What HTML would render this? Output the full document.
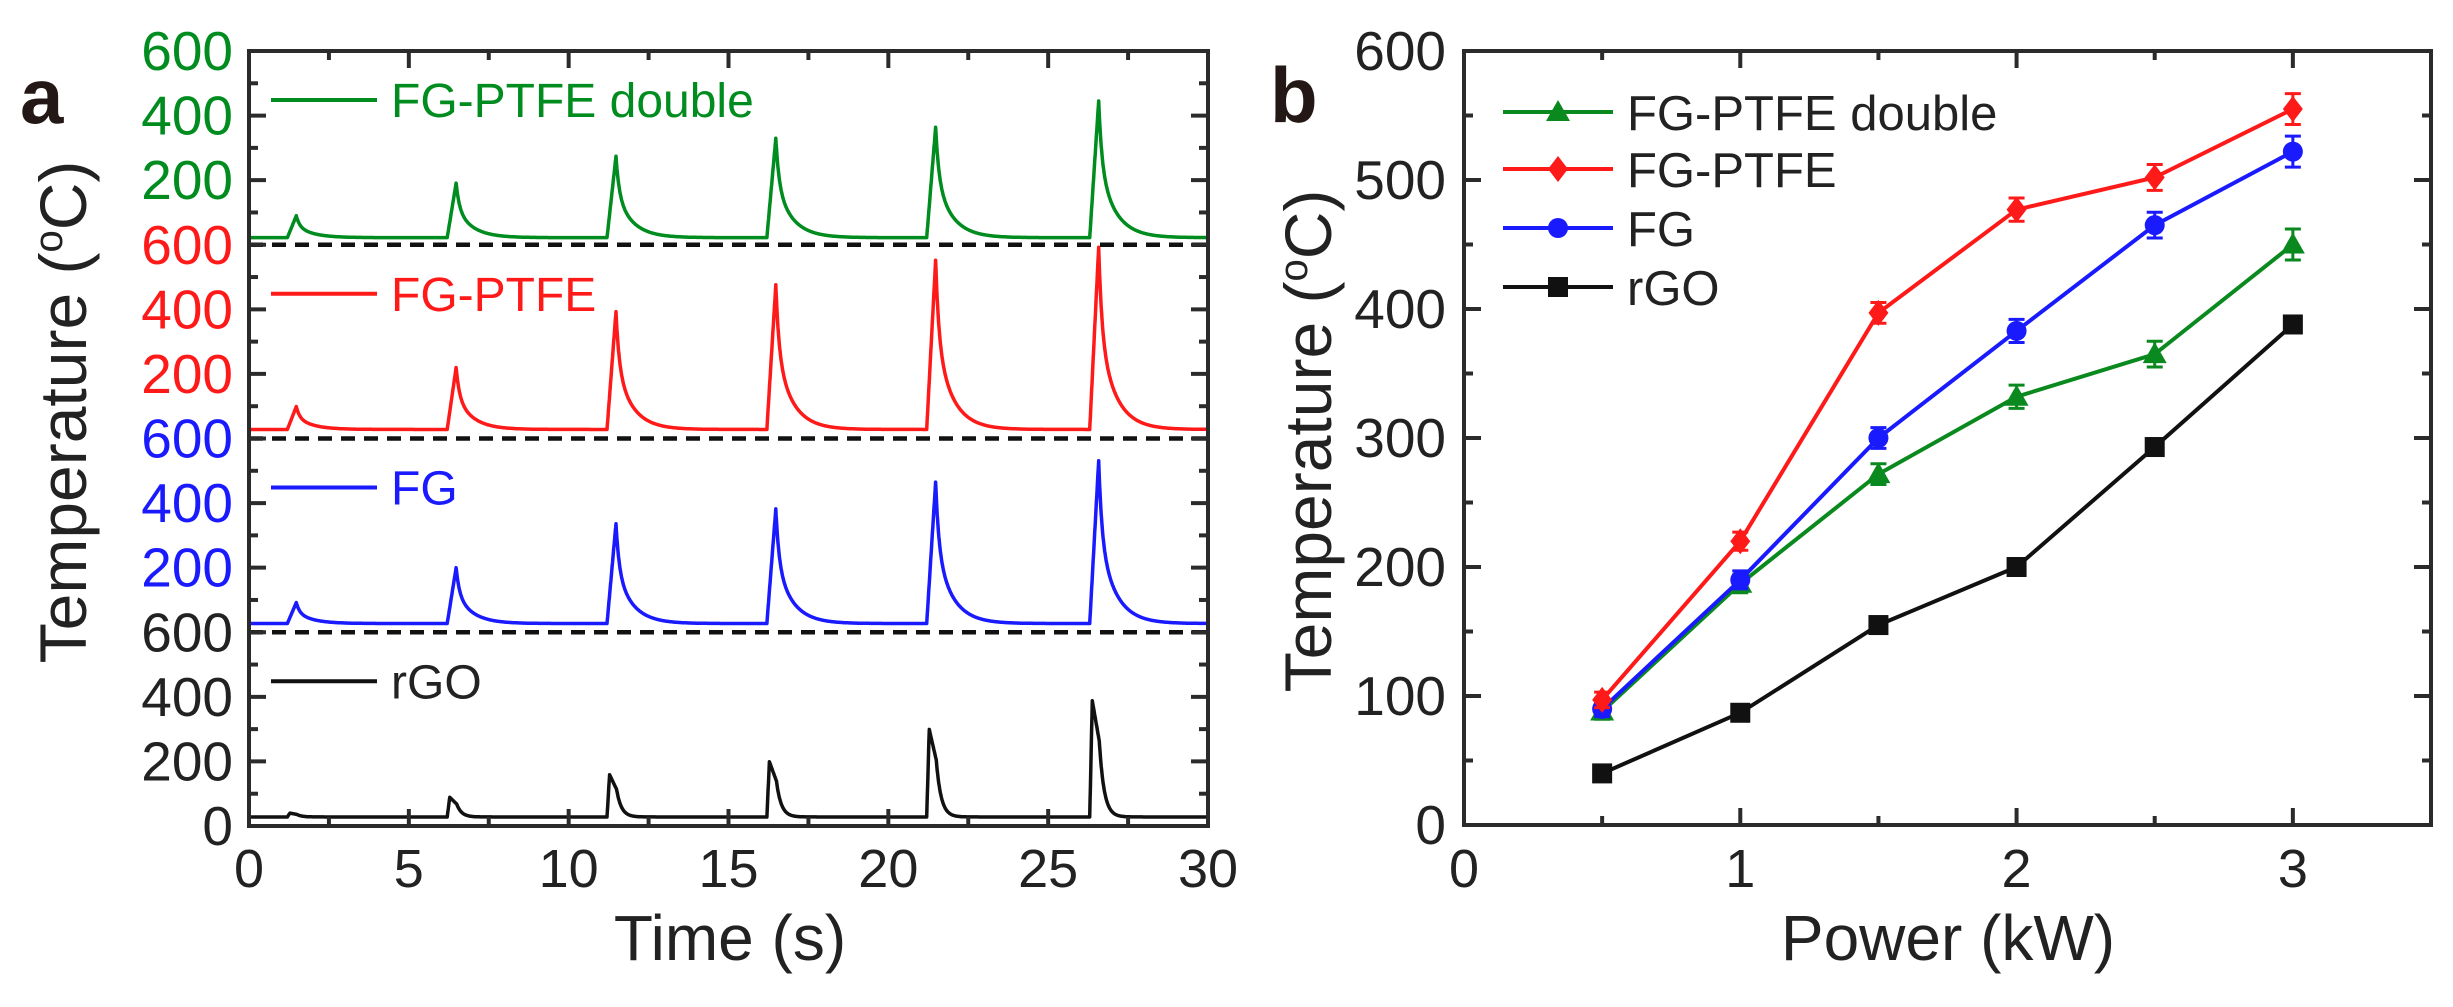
<!DOCTYPE html>
<html><head><meta charset="utf-8"><style>
html,body{margin:0;padding:0;background:#fff;}
svg{display:block;font-family:"Liberation Sans",Arial,sans-serif;}
</style></head><body>
<svg id="fig" width="2453" height="1007" viewBox="0 0 2453 1007" xmlns="http://www.w3.org/2000/svg">
<rect width="2453" height="1007" fill="#fff"/>
<g id="pa"></g>
<g id="pb"></g>
</svg>
<script>
// ---- Panel a data ----
const aSeriesNames = ["FG-PTFE double","FG-PTFE","FG","rGO"];
const aColors = ["#008c1e","#ff1a1a","#1a1aff","#111111"];
const aBaselines = [22, 28, 27, 28];
const aPulseStarts = [1.2, 6.2, 11.2, 16.2, 21.2, 26.3];
const aPeaksDouble = [90, 191, 274, 330, 364, 445];
const aPeaksPTFE = [99, 220, 393, 476, 552, 592];
const aPeaksFG = [92, 200, 336, 382, 465, 531];
const aPeaksRGO = [40, 89, 159, 199, 299, 388];
const aXTicks = [0,5,10,15,20,25,30];
const aYTicks = [0,200,400,600];

// ---- Panel b data ----
const bPower = [0.5,1,1.5,2,2.5,3];
const bDouble = [88,187,272,332,365,450];
const bPTFE = [97,220,397,477,502,555];
const bFG = [90,190,300,383,465,522];
const bRGO = [40,87,155,200,293,388];
const bErr = [6,7,8,9,10,12];
const bXTicks = [0,1,2,3];
const bYTicks = [0,100,200,300,400,500,600];

const NS="http://www.w3.org/2000/svg";
function mk(tag, attrs, parent){const e=document.createElementNS(NS,tag);for(const k in attrs)e.setAttribute(k,attrs[k]);parent.appendChild(e);return e;}
const AX="#2b2b2b";

// ===== Panel a =====
const pa=document.getElementById('pa');
const aL=249,aR=1208,aT=51,aB=826;
const segH=(aB-aT)/4;
const ax=t=>aL+(t/30)*(aR-aL);
const ay=(k,v)=>aT+segH*k+segH*(1-v/600);

let lab=mk('text',{x:20,y:123,'font-size':78,'font-weight':'bold',fill:'#231815'},pa);lab.textContent='a';



const aPeaks=[aPeaksDouble,aPeaksPTFE,aPeaksFG,aPeaksRGO];
aPeaks.forEach((peaks,k)=>{
  const base=aBaselines[k];
  let pts=[];
  for(let i=0;i<=3000;i++){
    const t=i/100;
    let v=base;
    peaks.forEach((p,j)=>{
      const s=aPulseStarts[j];
      const amp=p-base;
      if(k<3){
        const rise=0.28;
        if(t>=s&&t<s+rise) v+=amp*(t-s)/rise;
        else if(t>=s+rise){v+=amp*(0.45*Math.exp(-(t-s-rise)/0.1)+0.55*Math.exp(-(t-s-rise)/0.5));}
      } else {
        const rise=0.08;
        if(t>=s&&t<s+rise) v+=amp*(t-s)/rise;
        else if(t>=s+rise&&t<s+0.3) v+=amp*(1-0.35*(t-s-rise)/0.22);
        else if(t>=s+0.3){v+=amp*0.65*Math.exp(-(t-s-0.3)/0.15);}
      }
    });
    pts.push(ax(t).toFixed(1)+','+ay(k,v).toFixed(1));
  }
  const pl=mk('polyline',{points:pts.join(' '),fill:'none',stroke:aColors[k],'stroke-width':3.5,'stroke-linejoin':'round'},pa);
  
  
});
for(let k=1;k<4;k++){
  const d=mk('line',{x1:aL,x2:aR,y1:aT+segH*k,y2:aT+segH*k,stroke:'#111','stroke-width':4.5,'stroke-dasharray':'14 9'},pa);
  
  
}
const fa=mk('rect',{x:aL,y:aT,width:aR-aL,height:aB-aT,fill:'none',stroke:AX,'stroke-width':4},pa);


for(let t=0;t<=30;t+=2.5){
  const major=(t%5===0);const len=major?17:9;
  mk('line',{x1:ax(t),x2:ax(t),y1:aB,y2:aB-len,stroke:AX,'stroke-width':4},pa);
  mk('line',{x1:ax(t),x2:ax(t),y1:aT,y2:aT+len,stroke:AX,'stroke-width':4},pa);
}
aXTicks.forEach(t=>{
  const tx=mk('text',{x:ax(t),y:887,'font-size':54,'text-anchor':'middle',fill:'#222'},pa);tx.textContent=t;
  
  
});
for(let k=0;k<4;k++){
  for(let v=0;v<=600;v+=100){
    if(v===600&&k>0)continue;
    const len=(v%200===0)?17:9;const y=ay(k,v);
    mk('line',{x1:aL,x2:aL+len,y1:y,y2:y,stroke:AX,'stroke-width':4},pa);
    mk('line',{x1:aR,x2:aR-len,y1:y,y2:y,stroke:AX,'stroke-width':4},pa);
  }
  aYTicks.forEach(v=>{
    if(v===0&&k<3)return;
    const tx=mk('text',{x:233,y:ay(k,v)+19,'font-size':55,'text-anchor':'end',fill:aColors[k]==='#111111'?'#222':aColors[k]},pa);tx.textContent=v;
    
    
  });
  const ly=aT+segH*k+49;
  const ll=mk('line',{x1:271,x2:377,y1:ly,y2:ly,stroke:aColors[k],'stroke-width':4},pa);
  
  
  const lt=mk('text',{x:391,y:ly+17,'font-size':48,fill:aColors[k]==='#111111'?'#222':aColors[k]},pa);lt.textContent=aSeriesNames[k];
  
  
}
let xt=mk('text',{x:730,y:960,'font-size':64,'text-anchor':'middle',fill:'#222'},pa);xt.textContent='Time (s)';


let yt=mk('text',{x:0,y:0,'font-size':66,'text-anchor':'middle',fill:'#222',transform:'translate(86,412) rotate(-90)'},pa);
yt.innerHTML='Temperature (<tspan font-size="40" dy="-24">o</tspan><tspan dy="24">C)</tspan>';



// ===== Panel b =====
const pb=document.getElementById('pb');
const bL=1464,bR=2431,bT=51,bB=825;
const bx=p=>bL+(p/3.5)*(bR-bL);
const by=v=>bB-(v/600)*(bB-bT);
lab=mk('text',{x:1270,y:122,'font-size':78,'font-weight':'bold',fill:'#231815'},pb);lab.textContent='b';


const fb=mk('rect',{x:bL,y:bT,width:bR-bL,height:bB-bT,fill:'none',stroke:AX,'stroke-width':4},pb);


for(let p=0;p<=3.5;p+=0.5){
  const len=(p%1===0)?17:9;
  mk('line',{x1:bx(p),x2:bx(p),y1:bB,y2:bB-len,stroke:AX,'stroke-width':4},pb);
  mk('line',{x1:bx(p),x2:bx(p),y1:bT,y2:bT+len,stroke:AX,'stroke-width':4},pb);
}
for(let v=0;v<=600;v+=50){
  const len=(v%100===0)?17:9;
  mk('line',{x1:bL,x2:bL+len,y1:by(v),y2:by(v),stroke:AX,'stroke-width':4},pb);
  mk('line',{x1:bR,x2:bR-len,y1:by(v),y2:by(v),stroke:AX,'stroke-width':4},pb);
}
bXTicks.forEach(p=>{
  const tx=mk('text',{x:bx(p),y:887,'font-size':54,'text-anchor':'middle',fill:'#222'},pb);tx.textContent=p;
  
  
});
bYTicks.forEach(v=>{
  const tx=mk('text',{x:1446,y:by(v)+19,'font-size':55,'text-anchor':'end',fill:'#222'},pb);tx.textContent=v;
  
  
});
function marker(shape,x,y,c,g){
  if(shape==='tri') return mk('polygon',{points:`${x},${y-12} ${x-12},${y+9} ${x+12},${y+9}`,fill:c},g);
  if(shape==='dia') return mk('polygon',{points:`${x},${y-13} ${x+10},${y} ${x},${y+13} ${x-10},${y}`,fill:c},g);
  if(shape==='circ') return mk('circle',{cx:x,cy:y,r:10,fill:c},g);
  return mk('rect',{x:x-10,y:y-10,width:20,height:20,fill:c},g);
}
const bSeries=[["rGO",bRGO,"#111111","sq"],["FG-PTFE double",bDouble,"#0a8a1e","tri"],["FG",bFG,"#1a1aff","circ"],["FG-PTFE",bPTFE,"#ff1a1a","dia"]];
bSeries.forEach(([name,vals,c,shape])=>{
  const g=mk('g',{},pb);
  
  
  mk('polyline',{points:vals.map((v,i)=>bx(bPower[i])+','+by(v)).join(' '),fill:'none',stroke:c,'stroke-width':4},g);
  vals.forEach((v,i)=>{
    const x=bx(bPower[i]);
    if(name!=='rGO'){
      const e=bErr[i];
      mk('line',{x1:x,x2:x,y1:by(v+e),y2:by(v-e),stroke:c,'stroke-width':3},g);
      mk('line',{x1:x-8,x2:x+8,y1:by(v+e),y2:by(v+e),stroke:c,'stroke-width':3},g);
      mk('line',{x1:x-8,x2:x+8,y1:by(v-e),y2:by(v-e),stroke:c,'stroke-width':3},g);
    }
    const m=marker(shape,x,by(v),c,g);
    
    
  });
});
const bLeg=[["FG-PTFE double","#0a8a1e","tri"],["FG-PTFE","#ff1a1a","dia"],["FG","#1a1aff","circ"],["rGO","#111111","sq"]];
const legY=[112,169,228,287];
bLeg.forEach(([name,c,shape],i)=>{
  const g=mk('g',{},pb);
  
  
  mk('line',{x1:1503,x2:1613,y1:legY[i],y2:legY[i],stroke:c,'stroke-width':4},g);
  marker(shape,1558,legY[i],c,g);
  const t=mk('text',{x:1627,y:legY[i]+18,'font-size':49,fill:'#222'},g);t.textContent=name;
});
xt=mk('text',{x:1948,y:960,'font-size':64,'text-anchor':'middle',fill:'#222'},pb);xt.textContent='Power (kW)';


yt=mk('text',{x:0,y:0,'font-size':66,'text-anchor':'middle',fill:'#222',transform:'translate(1331,441) rotate(-90)'},pb);
yt.innerHTML='Temperature (<tspan font-size="40" dy="-24">o</tspan><tspan dy="24">C)</tspan>';


</script>
</body></html>
